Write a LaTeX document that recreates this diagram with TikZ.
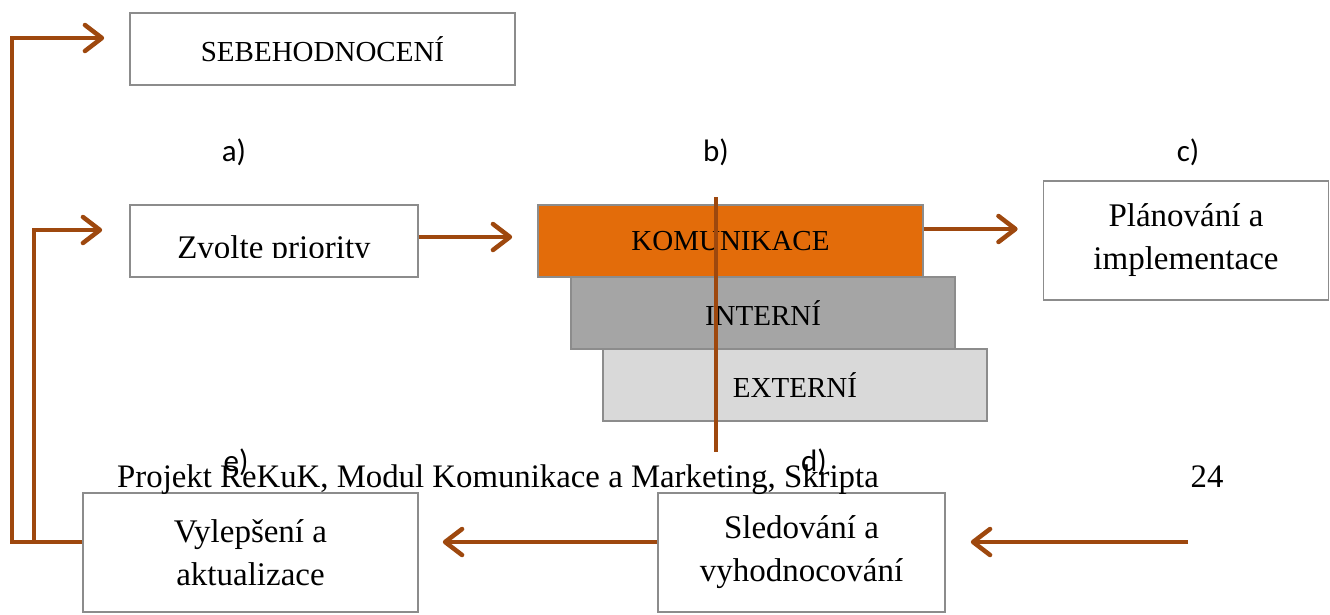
\documentclass[tikz,border=0pt]{standalone}
\usepackage{fontspec}
\setmainfont{Liberation Serif}
\newfontfamily\labfont{Carlito}
\usetikzlibrary{arrows.meta}
\definecolor{brn}{RGB}{158,72,14}
\definecolor{bgray}{RGB}{140,140,140}
\definecolor{org}{RGB}{227,108,10}
\definecolor{midg}{RGB}{165,165,165}
\definecolor{lightg}{RGB}{217,217,217}
\tikzset{
  box/.style={draw=bgray, line width=1.6pt, fill=white, inner sep=0pt, align=center,
    font=\fontsize{33}{43}\selectfont},
  capbox/.style={box, font=\fontsize{29}{34}\selectfont},
  arr/.style={draw=brn, line width=4.5pt, line join=miter,
    -{Straight Barb[length=17pt,width=26pt,line cap=round,line join=round]}},
  brnline/.style={draw=brn, line width=4.5pt},
  lab/.style={font=\labfont\fontsize{31}{36}\selectfont, inner sep=0pt},
  foot/.style={font=\fontsize{32.8}{38}\selectfont, inner sep=0pt, anchor=base west},
}
\begin{document}
\begin{tikzpicture}[x=1pt,y=-1pt]
\useasboundingbox (0,0) rectangle (1330,614);
% boxes
\node[capbox, minimum width=385pt, minimum height=72pt] (sebe) at (322.5,49) {SEBEHODNOCENÍ};
\node[box, minimum width=288pt, minimum height=72pt] (zvolte) at (274,241) {};
\begin{scope}
  \clip (zvolte.north west) rectangle (418,257);
  \node[font=\fontsize{33}{43}\selectfont, inner sep=0pt, anchor=base] (zvtext) at (274,258) {Zvolte priority};
\end{scope}
\node[capbox, fill=org, minimum width=385pt, minimum height=72pt] (kom) at (730.5,241) {KOMUNIKACE};
\node[capbox, fill=midg, minimum width=384pt, minimum height=72pt] (int) at (763,313) {INTERNÍ};
\node[capbox, fill=lightg, minimum width=384pt, minimum height=72pt] (ext) at (795,385) {EXTERNÍ};
\node[box, minimum width=285pt, minimum height=119pt] (plan) at (1186,240.5) {Plánování a\\implementace};
\node[box, minimum width=335pt, minimum height=119pt] (vyl) at (250.5,552.5) {Vylepšení a\\aktualizace};
\node[box, minimum width=287pt, minimum height=119pt] (sled) at (801.5,552.5) {Sledování a\\vyhodnocování};
% labels
\node[lab] (la) at (234,152) {a)};
\node[lab] (lb) at (716,152) {b)};
\node[lab] (lc) at (1188,152) {c)};
\node[lab] (le) at (236,462) {e)};
\node[lab] (ld) at (814,462) {d)};
\node[foot] (footer) at (117,487) {Projekt ReKuK, Modul Komunikace a Marketing, Skripta};
\node[foot, anchor=base] (page) at (1207,487) {24};
% vertical line through the stack
\coordinate (vtop) at (716,197);
\coordinate (vbot) at (716,452);
\draw[brnline] (vtop) -- (vbot);
% connectors
\coordinate (ybot) at (0,542);
\coordinate (ysebe) at (0,38);
\coordinate (yzv) at (0,230);
\coordinate (ykom) at (0,229);
\coordinate (xo) at (12,0);
\coordinate (xi) at (34,0);
\coordinate (rstart) at (1188,542);
\draw[arr] (vyl.west |- ybot) -| (xo |- ysebe) -- ([xshift=-25pt]sebe.west |- ysebe);
\draw[arr] (xi |- ybot) -- (xi |- yzv) -- ([xshift=-27pt]zvolte.west |- yzv);
\draw[arr, shorten >=25pt] (zvolte.east |- 0,237) -- (kom.west |- 0,237);
\draw[arr, shorten >=25pt] (kom.east |- ykom) -- (plan.west |- ykom);
\draw[arr, shorten >=24pt] (sled.west |- ybot) -- (vyl.east |- ybot);
\draw[arr, shorten >=25pt] (rstart) -- (sled.east |- ybot);
\end{tikzpicture}
\end{document}
